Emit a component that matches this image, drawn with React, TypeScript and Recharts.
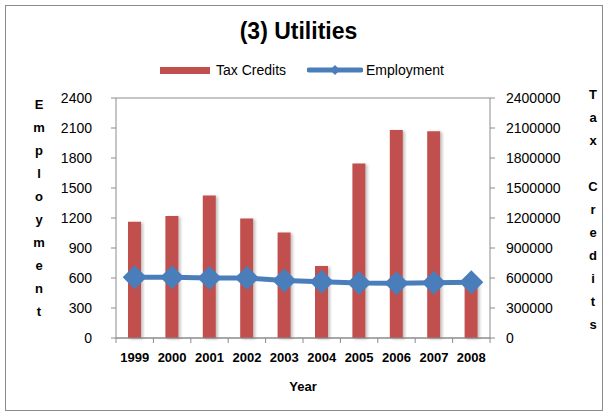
import { ComposedChart, Bar, Line, XAxis, YAxis, CartesianGrid } from "recharts"

const years = ["1999", "2000", "2001", "2002", "2003", "2004", "2005", "2006", "2007", "2008"]
const taxCredits = [1162000, 1221000, 1424000, 1195000, 1056000, 720000, 1746000, 2081000, 2068000, 560000]
const employment = [607, 607, 600, 600, 576, 562, 549, 548, 553, 557]
const leftTicks = [0, 300, 600, 900, 1200, 1500, 1800, 2100, 2400]
const rightTicks = [0, 300000, 600000, 900000, 1200000, 1500000, 1800000, 2100000, 2400000]

const FONT = "'Liberation Sans', Arial, sans-serif"
const RED = "#C0504D"
const BLUE = "#4A7EBB"
const GRAY = "#8C8C8C"

const W = 605
const H = 414
const PLOT_LEFT = 116
const PLOT_RIGHT = 490
const BAND = (PLOT_RIGHT - PLOT_LEFT) / years.length

const data = years.map((year, i) => ({ year, taxCredits: taxCredits[i], employment: employment[i] }))

function Diamond(props: any) {
  const { cx, cy } = props
  if (cx == null || cy == null) return null
  const r = 12
  return <path d={`M${cx},${cy - r} L${cx + r},${cy} L${cx},${cy + r} L${cx - r},${cy} Z`} fill={BLUE} />
}

function YearTick(props: any) {
  const { x, y, payload, index } = props
  const left = x - BAND / 2
  return (
    <g>
      <line x1={left} y1={y - 8} x2={left} y2={y - 3} stroke={GRAY} />
      {index === years.length - 1 && <line x1={x + BAND / 2} y1={y - 8} x2={x + BAND / 2} y2={y - 3} stroke={GRAY} />}
      <text x={x} y={y + 16} textAnchor="middle" fontFamily={FONT} fontSize={13} fontWeight="bold" fill="#000">
        {payload.value}
      </text>
    </g>
  )
}

function StackedLabel({ text, x, y, step }: { text: string; x: number; y: number; step: number }) {
  return (
    <div style={{ position: "absolute", left: x, top: y, width: 20, fontFamily: FONT, fontSize: 13, fontWeight: "bold", textAlign: "center", lineHeight: `${step}px` }}>
      {text.split("").map((ch, i) => (
        <div key={i} style={{ height: step }}>{ch === " " ? "\u00a0" : ch}</div>
      ))}
    </div>
  )
}

export default function App() {
  return (
    <div style={{ position: "absolute", left: 0, top: 0, width: W, height: H, background: "#fff", fontFamily: FONT }}>
      <div style={{ position: "absolute", left: 5, top: 5, width: 596, height: 404, border: "1px solid #8a8a8a" }} />
      <div style={{ position: "absolute", left: 0, top: 18, width: W - 8, textAlign: "center", fontSize: 23, fontWeight: "bold" }}>
        (3) Utilities
      </div>
      <div style={{ position: "absolute", left: 160, top: 61, height: 18, display: "flex", alignItems: "center", fontSize: 14 }}>
        <div style={{ width: 50, height: 7, background: RED }} />
        <span style={{ marginLeft: 6 }}>Tax Credits</span>
        <svg width={56} height={18} style={{ marginLeft: 21 }}>
          <line x1={2} y1={9} x2={54} y2={9} stroke={BLUE} strokeWidth={5} strokeLinecap="round" />
          <path d="M28,4 L33,9 L28,14 L23,9 Z" fill={BLUE} />
        </svg>
        <span style={{ marginLeft: 3 }}>Employment</span>
      </div>
      <StackedLabel text="Employment" x={29} y={93} step={23} />
      <StackedLabel text="Tax Credits" x={583} y={83} step={23} />
      <div style={{ position: "absolute", left: PLOT_LEFT, top: 379, width: PLOT_RIGHT - PLOT_LEFT, textAlign: "center", fontSize: 13, fontWeight: "bold" }}>
        Year
      </div>
      <div style={{ position: "absolute", left: 0, top: 0 }}>
        <ComposedChart width={W} height={H} data={data} margin={{ top: 98, right: 0, bottom: 46, left: 0 }} barCategoryGap={0}>
          <defs>
            <filter id="barShadow" x="-30%" y="-10%" width="160%" height="120%">
              <feDropShadow dx={2} dy={1} stdDeviation={1.5} floodColor="#000" floodOpacity={0.25} />
            </filter>
          </defs>
          <CartesianGrid vertical={false} stroke={GRAY} strokeWidth={1} />
          <XAxis dataKey="year" height={30} axisLine={{ stroke: GRAY }} tickLine={false} tick={<YearTick />} interval={0} />
          <YAxis
            yAxisId="left"
            orientation="left"
            width={PLOT_LEFT}
            domain={[0, 2400]}
            ticks={leftTicks}
            axisLine={{ stroke: GRAY }}
            tickLine={{ stroke: GRAY }}
            tickSize={5}
            tickMargin={19}
            tick={{ fontFamily: FONT, fontSize: 14, fill: "#000" }}
            interval={0}
          />
          <YAxis
            yAxisId="right"
            orientation="right"
            width={W - PLOT_RIGHT}
            domain={[0, 2400000]}
            ticks={rightTicks}
            axisLine={{ stroke: GRAY }}
            tickLine={{ stroke: GRAY }}
            tickSize={5}
            tickMargin={11}
            tick={{ fontFamily: FONT, fontSize: 14, fill: "#000" }}
            interval={0}
          />
          <Bar yAxisId="right" dataKey="taxCredits" fill={RED} barSize={13} filter="url(#barShadow)" isAnimationActive={false} />
          <Line yAxisId="left" dataKey="employment" stroke={BLUE} strokeWidth={5} dot={<Diamond />} activeDot={false} isAnimationActive={false} />
        </ComposedChart>
      </div>
    </div>
  )
}
